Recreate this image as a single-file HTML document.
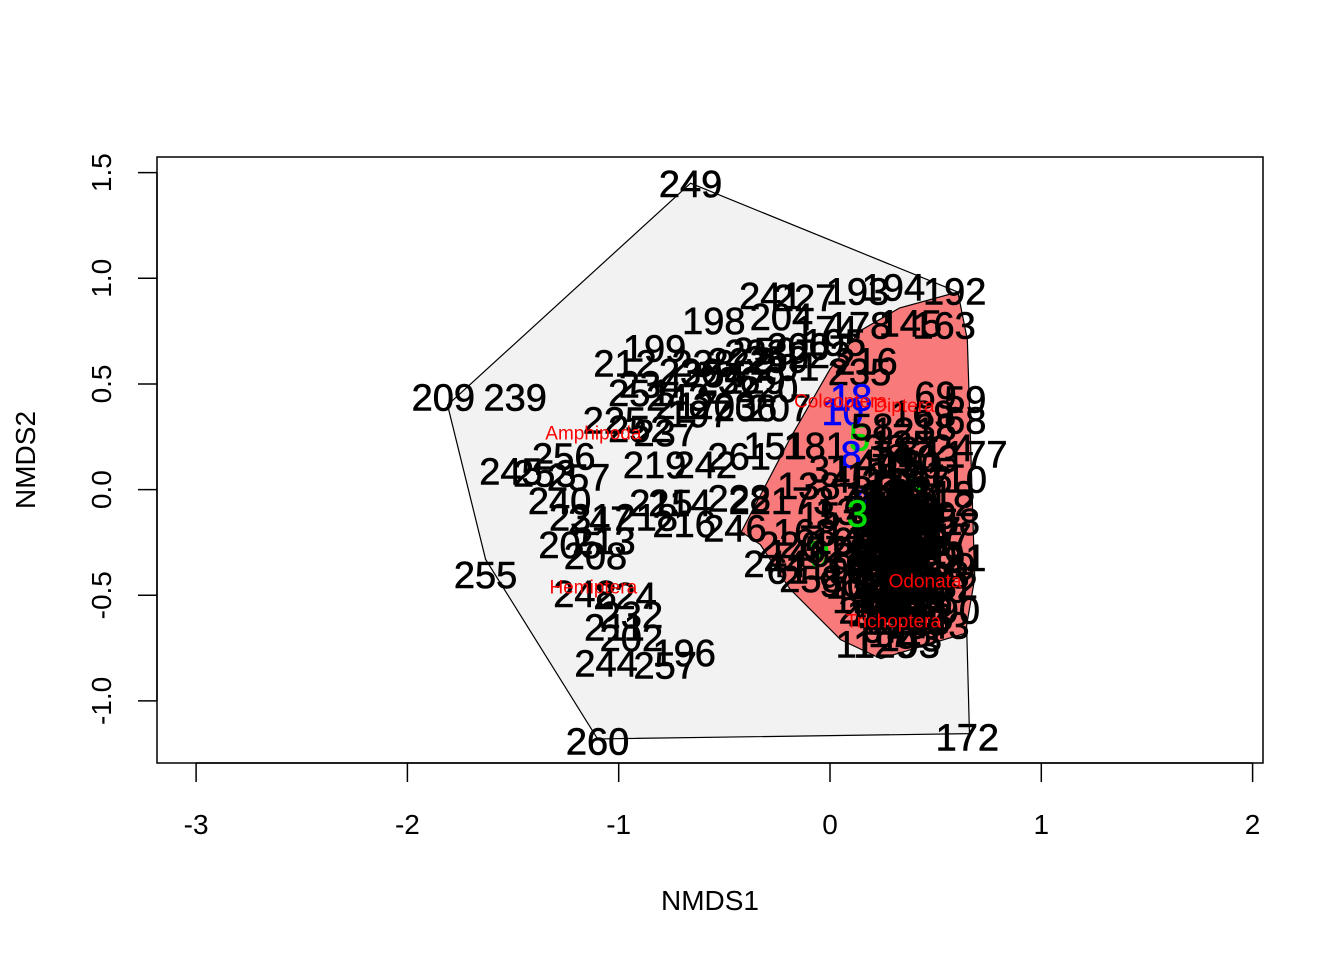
<!DOCTYPE html>
<html><head><meta charset="utf-8"><style>
html,body{margin:0;padding:0;background:#fff;}
svg{display:block;font-family:"Liberation Sans",Arial,sans-serif;}
</style></head><body>
<svg id="chart" width="1344" height="960" viewBox="0 0 1344 960" xmlns="http://www.w3.org/2000/svg">
<rect x="0" y="0" width="1344" height="960" fill="#fff"/>
<g id="hulls"></g>
<g id="labels"></g>
<g id="axes"></g>
<text x="710" y="910" font-size="28" text-anchor="middle">NMDS1</text>
<text x="0" y="0" font-size="28" text-anchor="middle" transform="translate(35,460) rotate(-90)">NMDS2</text>
</svg>
<script>
const NS='http://www.w3.org/2000/svg';
const xTicks=[-3,-2,-1,0,1,2];
const yTicks=[-1.0,-0.5,0.0,0.5,1.0,1.5];
const yTickLabels=['-1.0','-0.5','0.0','0.5','1.0','1.5'];
const grayHullX=[-0.66,0.605,0.66,-1.10,-1.63,-1.81];
const grayHullY=[1.45,0.935,-1.155,-1.18,-0.33,0.40];
const redHullX=[0.605,0.65,0.685,0.64,0.24,0.05,-0.19,-0.33,-0.42,-0.19,0.0,0.14,0.33];
const redHullY=[0.935,0.71,-0.42,-0.68,-0.80,-0.71,-0.47,-0.26,-0.20,0.24,0.57,0.75,0.86];
const siteNames=['249','194','192','193','241','227','198','204','163','145','178','174','199','212','250','216','235','230','209','239','222','251','234','206','207','69','59','68','177','225','252','237','256','261','151','181','219','242','245','253','257','240','215','214','228','221','231','247','218','216','246','213','205','208','226','244','258','255','248','224','232','211','202','196','244','257','260','172','129','11','93','26','90','3','91','2','7','233','254','200','236','243','238','220','201','197','203','223','229','217','259','195'];
const siteX=[-0.66,0.30,0.59,0.13,-0.28,-0.12,-0.55,-0.23,0.54,0.38,0.14,-0.02,-0.83,-0.97,-0.31,0.17,0.14,-0.66,-1.83,-1.49,-0.43,-0.90,-0.85,-0.40,-0.24,0.50,0.64,0.64,0.69,-1.02,-0.90,-0.78,-1.26,-0.43,-0.26,-0.07,-0.83,-0.59,-1.51,-1.35,-1.19,-1.28,-0.80,-0.71,-0.43,-0.33,-1.18,-1.09,-0.87,-0.69,-0.45,-1.07,-1.23,-1.11,-0.19,-0.26,-0.09,-1.63,-1.16,-0.97,-0.94,-1.02,-0.94,-0.69,-1.06,-0.78,-1.10,0.65,0.26,0.12,0.42,0.14,0.61,0.61,0.64,0.64,0.52,-0.35,-0.55,-0.15,-0.48,-0.72,-0.60,-0.30,-0.20,-0.62,-0.50,-0.05,-0.36,-0.68,-0.25,0.02];
const siteY=[1.45,0.96,0.94,0.94,0.92,0.91,0.80,0.82,0.78,0.79,0.78,0.76,0.67,0.60,0.66,0.61,0.56,0.56,0.44,0.44,0.61,0.46,0.50,0.39,0.39,0.45,0.43,0.33,0.17,0.33,0.29,0.27,0.16,0.16,0.21,0.21,0.12,0.12,0.09,0.08,0.06,-0.05,-0.06,-0.06,-0.04,-0.05,-0.13,-0.14,-0.13,-0.16,-0.18,-0.24,-0.26,-0.31,-0.26,-0.35,-0.42,-0.40,-0.49,-0.50,-0.59,-0.65,-0.70,-0.77,-0.82,-0.83,-1.19,-1.17,-0.73,-0.73,-0.73,-0.57,-0.57,-0.64,-0.32,-0.06,0.04,0.65,0.55,0.68,0.52,0.44,0.60,0.48,0.58,0.36,0.40,0.64,0.52,0.40,0.62,0.70];
const colorNames=['18','10','5','8','6','9','4'];
const colorX=[0.10,0.06,0.14,0.10,0.40,-0.05,0.15];
const colorY=[0.44,0.37,0.25,0.17,0.00,-0.30,-0.04];
const colorFill=['#0000ff','#0000ff','#00dd00','#0000ff','#00dd00','#00dd00','#0000ff'];
const blobNames=['45','12','33','87','101','56','78','140','99','63','21','118','134','72','48','155','83','39','127','66','14','109','92','57','160','41','75','30','148','115','86','54','137','23','170','62','97','44','128','81','19','153','106','71','35','142','88','50','122','64','17','131','95','27','166','59','113','40','79','150','103','36','125','84','15','168','52','119','73','146','31','96','61','138','24','110','158','47','89','132','67','176','104','28','143','85','121','38','169','58'];
const blobX=[0.10,0.18,0.25,0.32,0.40,0.48,0.14,0.22,0.30,0.38,0.46,0.54,0.08,0.16,0.26,0.34,0.42,0.50,0.12,0.20,0.28,0.36,0.44,0.52,0.06,0.15,0.24,0.33,0.41,0.49,0.11,0.19,0.29,0.37,0.45,0.53,0.09,0.17,0.27,0.35,0.43,0.51,0.13,0.21,0.31,0.39,0.47,0.55,0.16,0.24,0.32,0.40,0.48,0.20,0.28,0.36,0.44,0.22,0.30,0.38,0.46,0.26,0.34,0.42,-0.05,-0.12,-0.02,0.03,-0.08,-0.15,0.00,0.05,-0.20,-0.10,0.58,0.60,0.56,0.57,0.59,0.55,0.25,0.33,0.41,0.30,0.38,0.47,0.35,0.50,0.44,0.20];
const blobY=[0.05,0.07,0.04,0.06,0.08,0.05,-0.03,-0.02,-0.04,-0.01,-0.03,-0.02,-0.10,-0.09,-0.11,-0.08,-0.10,-0.12,-0.17,-0.16,-0.18,-0.15,-0.17,-0.19,-0.24,-0.23,-0.25,-0.22,-0.24,-0.26,-0.31,-0.30,-0.32,-0.29,-0.31,-0.33,-0.38,-0.37,-0.39,-0.36,-0.38,-0.40,-0.45,-0.44,-0.46,-0.43,-0.45,-0.47,-0.52,-0.51,-0.53,-0.50,-0.52,-0.58,-0.59,-0.57,-0.60,0.13,0.14,0.12,0.15,0.20,0.22,0.19,-0.12,-0.20,-0.28,-0.36,-0.05,-0.30,0.10,-0.44,-0.38,0.02,0.20,0.05,-0.15,-0.22,-0.36,-0.45,-0.66,-0.68,-0.64,-0.62,-0.70,-0.62,0.28,0.30,0.36,0.30];
const coreNames=['1','13','16','20','22','25','29','32','34','37','42','43','46','49','51','53','55','60','65','70','74','76','77','80','82','94','98','100','102','105','107','108','111','112','114','116','117','120','123','124','126','130','133','135','136','139','141','144','147','149','152','154','156','157','159','161','162','164','165','167'];
const coreX=[0.20,0.27,0.34,0.41,0.23,0.30,0.37,0.44,0.19,0.26,0.33,0.40,0.22,0.29,0.36,0.43,0.21,0.28,0.35,0.42,0.24,0.31,0.38,0.18,0.25,0.32,0.39,0.23,0.30,0.37,0.27,0.34,0.41,0.29,0.36,0.31,0.22,0.35,0.26,0.39,0.28,0.33,0.24,0.38,0.30,0.21,0.36,0.27,0.32,0.25,0.40,0.29,0.34,0.23,0.37,0.31,0.26,0.35,0.28,0.33];
const coreY=[-0.02,-0.04,-0.01,-0.05,-0.09,-0.11,-0.08,-0.12,-0.15,-0.17,-0.14,-0.18,-0.21,-0.23,-0.20,-0.24,-0.27,-0.29,-0.26,-0.30,-0.33,-0.35,-0.32,-0.38,-0.40,-0.37,-0.41,-0.45,-0.47,-0.44,-0.52,-0.50,-0.48,-0.56,-0.55,0.03,-0.06,-0.07,-0.13,-0.15,-0.19,-0.22,-0.28,-0.25,-0.31,-0.34,-0.36,-0.42,-0.39,-0.49,-0.46,-0.62,-0.60,-0.58,-0.09,-0.27,-0.35,-0.43,-0.12,-0.53];
const lateNames=['3'];
const lateX=[0.13];
const lateY=[-0.11];
const lateFill=['#00dd00'];
const taxaNames=['Amphipoda','Hemiptera','Coleoptera','Diptera','Odonata','Trichoptera'];
const taxaX=[-1.12,-1.12,0.05,0.35,0.45,0.30];
const taxaY=[0.27,-0.46,0.42,0.40,-0.43,-0.62];

const X0=830,XS=211.3,Y0=489.6,YS=211.3;
function sx(v){return X0+v*XS;}
function sy(v){return Y0-v*YS;}
function mk(tag,attrs){const e=document.createElementNS(NS,tag);for(const k in attrs)e.setAttribute(k,attrs[k]);return e;}

const hulls=document.getElementById('hulls');
let g=mk('polygon',{points:grayHullX.map((x,i)=>sx(x)+','+sy(grayHullY[i])).join(' '),fill:'#f2f2f2',stroke:'#000','stroke-width':1.2});


hulls.appendChild(g);
let r=mk('polygon',{points:redHullX.map((x,i)=>sx(x)+','+sy(redHullY[i])).join(' '),fill:'#f87a7a',stroke:'#000','stroke-width':1.2});


hulls.appendChild(r);

const labels=document.getElementById('labels');
function addText(txt,x,y,size,fill,name){
  const t=mk('text',{x:sx(x),y:sy(y)+size*0.36,'font-size':size,'text-anchor':'middle',fill:fill,stroke:fill,'stroke-width':size>30?0.6:0});
  t.textContent=txt;
  
  
  labels.appendChild(t);
}
siteNames.forEach((n,i)=>addText(n,siteX[i],siteY[i],38,'#000','site-label'));
colorNames.forEach((n,i)=>addText(n,colorX[i],colorY[i],38,colorFill[i],'group-label'));
blobNames.forEach((n,i)=>addText(n,blobX[i],blobY[i],38,'#000','site-label'));
coreNames.forEach((n,i)=>addText(n,coreX[i],coreY[i],38,'#000','site-label'));
taxaNames.forEach((n,i)=>addText(n,taxaX[i],taxaY[i],19,'#ff0000','species-label'));
lateNames.forEach((n,i)=>addText(n,lateX[i],lateY[i],38,lateFill[i],'group-label'));

const axes=document.getElementById('axes');
let box=mk('rect',{x:157,y:157,width:1106,height:606,fill:'none',stroke:'#000','stroke-width':1.5});


axes.appendChild(box);
let xl=mk('line',{x1:sx(-3),x2:sx(2),y1:763,y2:763,stroke:'#000','stroke-width':1.5});


axes.appendChild(xl);
xTicks.forEach(v=>{
  const l=mk('line',{x1:sx(v),x2:sx(v),y1:763,y2:782,stroke:'#000','stroke-width':1.5});
  
  
  axes.appendChild(l);
  const t=mk('text',{x:sx(v),y:834,'font-size':28,'text-anchor':'middle'});
  t.textContent=String(v);
  
  
  axes.appendChild(t);
});
let yl=mk('line',{x1:157,x2:157,y1:sy(-1),y2:sy(1.5),stroke:'#000','stroke-width':1.5});


axes.appendChild(yl);
yTicks.forEach((v,i)=>{
  const l=mk('line',{x1:138,x2:157,y1:sy(v),y2:sy(v),stroke:'#000','stroke-width':1.5});
  
  
  axes.appendChild(l);
  const t=mk('text',{x:0,y:0,'font-size':28,'text-anchor':'middle',transform:'translate(111,'+sy(v)+') rotate(-90)'});
  t.textContent=yTickLabels[i];
  
  
  axes.appendChild(t);
});
</script>
</body></html>
